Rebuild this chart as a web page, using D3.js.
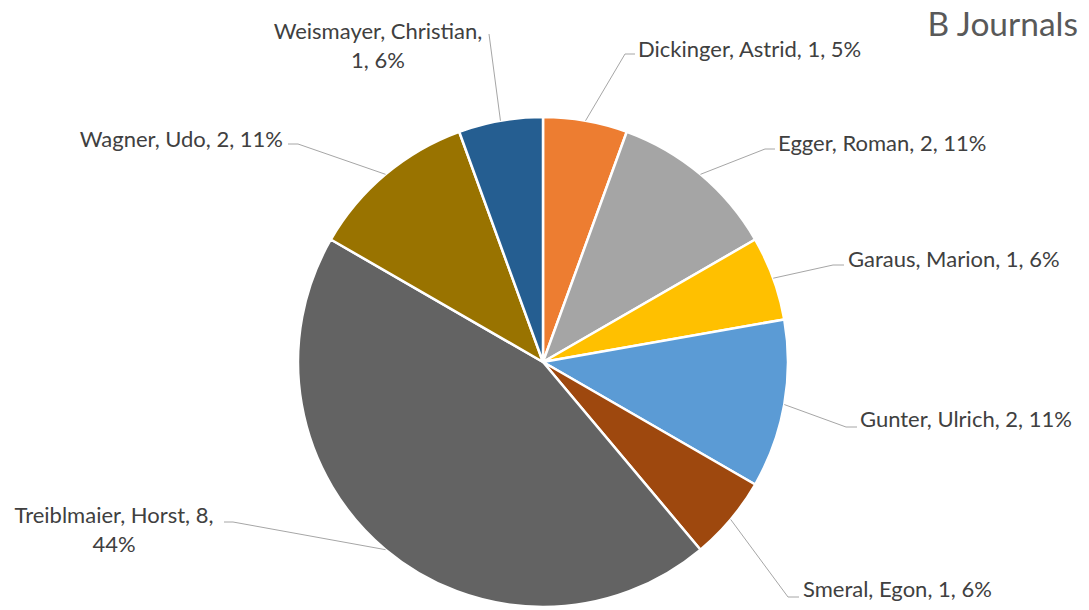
<!DOCTYPE html>
<html>
<head>
<meta charset="UTF-8">
<title>B Journals</title>
<script src="https://d3js.org/d3.v7.min.js"></script>
<style>
  html, body { margin: 0; padding: 0; background: #fff; }
  svg text { font-family: Lato, "Open Sans", sans-serif; fill: #404040; }
  svg text.title { fill: #595959; }
</style>
</head>
<body>
<script>
// data, in Excel's clockwise order from 12 o'clock
const names = ['Dickinger, Astrid', 'Egger, Roman', 'Garaus, Marion', 'Gunter, Ulrich',
  'Smeral, Egon', 'Treiblmaier, Horst', 'Wagner, Udo', 'Weismayer, Christian'];
const counts = [1, 2, 1, 2, 1, 8, 2, 1];
const pctLabels = ['5%', '11%', '6%', '11%', '6%', '44%', '11%', '6%'];
const colors = ['#ED7D31', '#A5A5A5', '#FFC000', '#5B9BD5', '#9E480E', '#636363', '#997300', '#255E91'];

// label layout: wrap (how many comma parts on line 1), anchor, text x, first line y, leader elbow + end
const labelLayout = [
  { wrap: 0, anchor: 'start', x: 638, y: 48, elbow: [625, 54], end: [635, 54] },
  { wrap: 0, anchor: 'start', x: 778, y: 142, elbow: [765, 149], end: [775, 149] },
  { wrap: 0, anchor: 'start', x: 848, y: 258, elbow: [833, 265], end: [844, 265] },
  { wrap: 0, anchor: 'start', x: 860, y: 418, elbow: [846, 427], end: [857, 427] },
  { wrap: 0, anchor: 'start', x: 803, y: 588, elbow: [788, 597], end: [799, 597] },
  { wrap: 3, anchor: 'middle', x: 114, y: 514, elbow: [233, 522], end: [224, 522] },
  { wrap: 0, anchor: 'end', x: 283, y: 138, elbow: [298, 144], end: [288, 144] },
  { wrap: 2, anchor: 'middle', x: 378, y: 30, elbow: [489, 34], end: [489, 34] }
];

const width = 1089, height = 610;
const cx = 543, cy = 362, radius = 245;

const svg = d3.select('body').append('svg')
  .attr('width', width)
  .attr('height', height);

const data = names.map((n, i) => ({ name: n, value: counts[i], pct: pctLabels[i], color: colors[i] }));

const pie = d3.pie().value(d => d.value).sort(null);
const arc = d3.arc().innerRadius(0).outerRadius(radius);
const arcs = pie(data);

const g = svg.append('g').attr('transform', `translate(${cx}, ${cy})`);

g.selectAll('path.slice')
  .data(arcs)
  .enter()
  .append('path')
  .attr('class', 'slice')
  .attr('d', arc)
  .attr('fill', d => d.data.color)
  .attr('stroke', '#fff')
  .attr('stroke-width', 2.5)
  .attr('stroke-linejoin', 'round');

// leader lines
const line = d3.line();
arcs.forEach((a, i) => {
  const mid = (a.startAngle + a.endAngle) / 2;
  const p0 = [cx + radius * Math.sin(mid), cy - radius * Math.cos(mid)];
  const L = labelLayout[i];
  svg.append('path')
    .attr('d', line([p0, L.elbow, L.end]))
    .attr('fill', 'none')
    .attr('stroke', '#a6a6a6')
    .attr('stroke-width', 1);
});

// labels
arcs.forEach((a, i) => {
  const L = labelLayout[i];
  const parts = [...a.data.name.split(', '), a.data.value, a.data.pct];
  const t = svg.append('text')
    .attr('text-anchor', L.anchor)
    .attr('font-size', 22)
    .attr('dominant-baseline', 'central');
  if (L.wrap) {
    t.append('tspan').attr('x', L.x).attr('y', L.y).text(parts.slice(0, L.wrap).join(', ') + ',');
    t.append('tspan').attr('x', L.x).attr('y', L.y + 29).text(parts.slice(L.wrap).join(', '));
  } else {
    t.attr('x', L.x).attr('y', L.y).text(parts.join(', '));
  }
});

svg.append('text')
  .attr('class', 'title')
  .attr('x', 1078)
  .attr('y', 23)
  .attr('text-anchor', 'end')
  .attr('dominant-baseline', 'central')
  .attr('font-size', 33.5)
  .text('B Journals');
</script>
</body>
</html>
